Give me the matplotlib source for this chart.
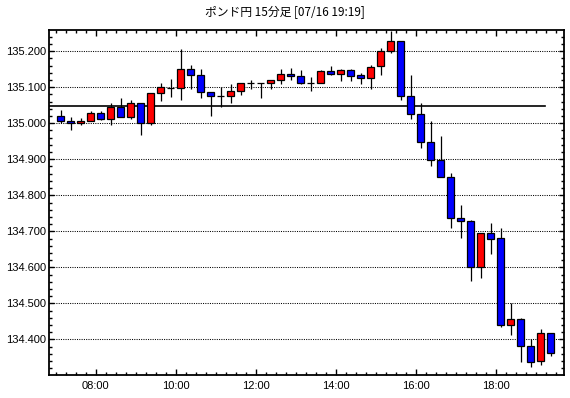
import matplotlib
matplotlib.use("Agg")
import matplotlib.pyplot as plt
from matplotlib.ticker import MultipleLocator, FuncFormatter

# 15-minute candles, 07:00 .. 19:15
times = [
    "07:00", "07:15", "07:30", "07:45", "08:00", "08:15", "08:30", "08:45",
    "09:00", "09:15", "09:30", "09:45", "10:00", "10:15", "10:30", "10:45",
    "11:00", "11:15", "11:30", "11:45", "12:00", "12:15", "12:30", "12:45",
    "13:00", "13:15", "13:30", "13:45", "14:00", "14:15", "14:30", "14:45",
    "15:00", "15:15", "15:30", "15:45", "16:00", "16:15", "16:30", "16:45",
    "17:00", "17:15", "17:30", "17:45", "18:00", "18:15", "18:30", "18:45",
    "19:00", "19:15",
]
opens = [
    135.020, 135.006, 135.000, 135.006, 135.028, 135.011, 135.046, 135.017,
    135.056, 135.000, 135.084, 135.098, 135.097, 135.150, 135.133, 135.086,
    135.075, 135.075, 135.089, 135.111, 135.113, 135.111, 135.119, 135.137,
    135.131, 135.113, 135.111, 135.144, 135.138, 135.147, 135.133, 135.127,
    135.158, 135.200, 135.228, 135.077, 135.025, 134.947, 134.897, 134.850,
    134.737, 134.728, 134.600, 134.694, 134.681, 134.439, 134.456, 134.381,
    134.339, 134.419,
]
highs = [
    135.037, 135.017, 135.014, 135.034, 135.033, 135.056, 135.070, 135.065,
    135.056, 135.084, 135.112, 135.123, 135.206, 135.163, 135.151, 135.086,
    135.100, 135.109, 135.111, 135.120, 135.113, 135.119, 135.151, 135.154,
    135.148, 135.129, 135.147, 135.159, 135.150, 135.150, 135.140, 135.163,
    135.208, 135.256, 135.228, 135.134, 135.056, 135.006, 134.965, 134.861,
    134.774, 134.732, 134.694, 134.723, 134.708, 134.500, 134.458, 134.401,
    134.429, 134.419,
]
lows = [
    135.002, 134.980, 134.994, 135.005, 135.009, 134.994, 135.017, 135.011,
    134.967, 134.994, 135.063, 135.074, 135.066, 135.094, 135.071, 135.019,
    135.044, 135.057, 135.078, 135.094, 135.069, 135.096, 135.110, 135.121,
    135.108, 135.091, 135.111, 135.135, 135.116, 135.116, 135.110, 135.096,
    135.135, 135.196, 135.065, 135.011, 134.932, 134.882, 134.850, 134.710,
    134.682, 134.563, 134.569, 134.638, 134.435, 134.413, 134.338, 134.322,
    134.330, 134.355,
]
closes = [
    135.006, 135.000, 135.006, 135.028, 135.011, 135.046, 135.017, 135.056,
    135.000, 135.084, 135.100, 135.098, 135.150, 135.133, 135.086, 135.075,
    135.075, 135.089, 135.111, 135.111, 135.113, 135.119, 135.136, 135.131,
    135.113, 135.112, 135.144, 135.138, 135.147, 135.132, 135.127, 135.156,
    135.200, 135.228, 135.077, 135.025, 134.947, 134.897, 134.850, 134.737,
    134.728, 134.602, 134.694, 134.678, 134.439, 134.456, 134.381, 134.336,
    134.419, 134.361,
]
ref_level = 135.047
hour_labels = ["08:00", "10:00", "12:00", "14:00", "16:00", "18:00"]
title = "ポンド円 15分足 [07/16 19:19]"


def to_hours(t):
    h, m = t.split(":")
    return int(h) + int(m) / 60


x = [to_hours(t) + 7.5 / 60 for t in times]

plt.rcParams["font.family"] = ["Liberation Sans", "DejaVu Sans"]

fig = plt.figure(figsize=(5.7, 3.98), dpi=100)
ax = fig.add_axes([49 / 570, 1 - 375 / 398, 515 / 570, 345 / 398])

ax.set_xlim(6.8375, 19.7125)
ax.set_ylim(134.301, 135.259)

# dotted horizontal grid
ax.yaxis.set_major_locator(MultipleLocator(0.1))
ax.yaxis.set_minor_locator(MultipleLocator(0.02))
ax.grid(axis="y", which="major", color="black", linestyle=(0, (1, 1.2)), linewidth=0.75)
ax.set_axisbelow(True)

# reference level line
ax.plot([6.8375, 19.23], [ref_level, ref_level], color="black", linewidth=1.2, zorder=2)

# wicks
ax.vlines(x, lows, highs, color="black", linewidth=0.9, zorder=3)

# bodies
colors = []
for o, c in zip(opens, closes):
    if c > o:
        colors.append("#ff0000")
    elif c < o:
        colors.append("#0000ff")
    else:
        colors.append("none")
heights = [c - o for o, c in zip(opens, closes)]
ax.bar(x, heights, bottom=opens, width=0.175, color=colors,
       edgecolor="black", linewidth=0.9, zorder=4)

ax.xaxis.set_major_locator(MultipleLocator(2))
ax.xaxis.set_minor_locator(MultipleLocator(0.25))
ax.set_xticks(range(8, 20, 2))
ax.set_xticklabels(hour_labels)
ax.yaxis.set_major_formatter(FuncFormatter(lambda v, p: f"{v:.3f}"))

ax.tick_params(axis="both", which="both", direction="in",
               top=True, right=True, color="black", labelsize=8)
ax.tick_params(axis="x", which="major", length=4.5, width=1, pad=4)
ax.tick_params(axis="x", which="minor", length=2.5, width=1)
ax.tick_params(axis="y", which="major", length=3.5, width=1, pad=2)
ax.tick_params(axis="y", which="minor", length=2.5, width=1)

for s in ax.spines.values():
    s.set_linewidth(1.3)
    s.set_color("black")

fig.text(285 / 570, 1 - 12 / 398, title, ha="center", va="center",
         fontsize=8.5, family=["Noto Sans CJK JP", "DejaVu Sans"])

fig.savefig("out.png", dpi=100)
